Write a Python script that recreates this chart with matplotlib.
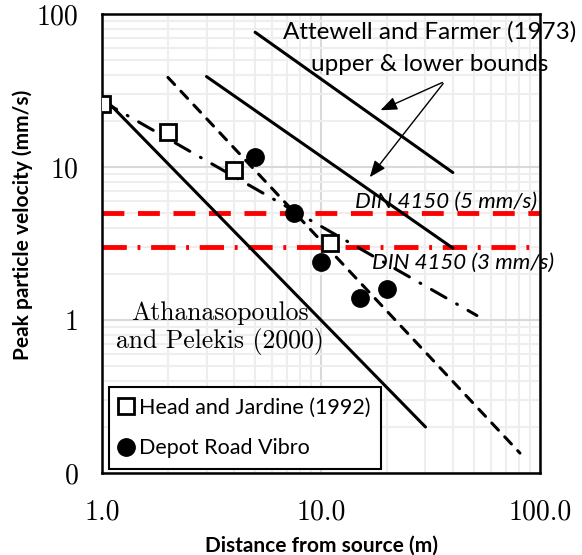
#
# Peak particle velocity vs distance (log-log)
#
import matplotlib
matplotlib.use("Agg")
import matplotlib.pyplot as plt
import matplotlib.ticker as mticker
import numpy as np

# 1. Input
head_x = [1.0, 2.0, 4.0, 11.0]
head_y = [26.0, 17.0, 9.5, 3.2]

depot_x = [5.0, 7.5, 10.0, 15.0, 20.0]
depot_y = [11.7, 5.0, 2.4, 1.4, 1.6]

athan_x = [1.0, 30.0]
athan_y = [29.0, 0.2]

head_fit_x = [1.0, 51.5]
head_fit_y = [27.0, 1.07]

dash_fit_x = [2.0, 81.0]
dash_fit_y = [38.5, 0.135]

att_upper_x = [5.0, 40.0]
att_upper_y = [76.0, 9.2]

att_lower_x = [3.0, 40.0]
att_lower_y = [39.0, 2.95]

din_5 = 5.0
din_3 = 3.0

x_ticks = [1, 10, 100]
x_labels = ["1.0", "10.0", "100.0"]
y_ticks = [0.1, 1, 10, 100]
y_labels = ["0", "1", "10", "100"]

# 2. Process
serif = "cmr10"
sans = "Lato"

fig = plt.figure(figsize=(5.82, 5.55), dpi=100)
ax = fig.add_axes([0.1753, 0.1477, 0.7525, 0.8271])
ax.set_xscale("log")
ax.set_yscale("log")
ax.set_xlim(1, 100)
ax.set_ylim(0.1, 100)

ax.grid(which="major", color="#d9d9d9", lw=1.5, zorder=0)
ax.grid(which="minor", color="#eeeeee", lw=1.5, zorder=0)
ax.set_axisbelow(True)

# red DIN lines
ax.axhline(din_5, color="red", lw=3.5, dashes=(4.5, 2.8), zorder=2)
ax.axhline(din_3, color="red", lw=3.5, dashes=(5, 2.2, 0.6, 2.2), zorder=2)

# black lines
ax.plot(athan_x, athan_y, color="black", lw=2.2, solid_capstyle="round", zorder=3)
ax.plot(att_upper_x, att_upper_y, color="black", lw=2.2, solid_capstyle="round", zorder=3)
ax.plot(att_lower_x, att_lower_y, color="black", lw=2.2, solid_capstyle="round", zorder=3)
ax.plot(dash_fit_x, dash_fit_y, color="black", lw=2.2, dashes=(3.2, 3.0),
        dash_capstyle="round", zorder=3)
ax.plot(head_fit_x, head_fit_y, color="black", lw=2.2, dashes=(5.5, 4.0, 0.3, 4.0),
        dash_capstyle="round", zorder=3)

# data points
ax.plot(head_x, head_y, ls="none", marker="s", ms=11, mfc="white", mec="black",
        mew=2.0, label="Head and Jardine (1992)", zorder=4)
ax.plot(depot_x, depot_y, ls="none", marker="o", ms=12.5, mfc="black", mec="black",
        label="Depot Road Vibro", zorder=4)

# texts
ax.text(31.5, 77, "Attewell and Farmer (1973)", ha="center", va="center",
        fontsize=17.5, family=sans, clip_on=False)
ax.text(31.5, 46.5, "upper & lower bounds", ha="center", va="center",
        fontsize=17.5, family=sans)
ax.annotate("", xy=(18.2, 23.1), xytext=(36.8, 36.3),
            arrowprops=dict(arrowstyle="-|>,head_length=1.0,head_width=0.4",
                            color="black", lw=1.0))
ax.annotate("", xy=(16.4, 8.3), xytext=(36.8, 36.3),
            arrowprops=dict(arrowstyle="-|>,head_length=1.0,head_width=0.4",
                            color="black", lw=1.0))
ax.text(97, 5.95, "DIN 4150 (5 mm/s)", ha="right", va="center", fontsize=16,
        family=sans, style="italic")
ax.text(116, 2.38, "DIN 4150 (3 mm/s)", ha="right", va="center", fontsize=16,
        family=sans, style="italic")
ax.text(3.46, 0.89, "Athanasopoulos\nand Pelekis (2000)", ha="center", va="center",
        fontsize=18.5, family=serif, linespacing=1.15)

# axes style
for s in ax.spines.values():
    s.set_linewidth(1.8)
ax.xaxis.set_major_locator(mticker.FixedLocator(x_ticks))
ax.xaxis.set_major_formatter(mticker.FixedFormatter(x_labels))
ax.yaxis.set_major_locator(mticker.FixedLocator(y_ticks))
ax.yaxis.set_major_formatter(mticker.FixedFormatter(y_labels))
ax.xaxis.set_minor_formatter(mticker.NullFormatter())
ax.yaxis.set_minor_formatter(mticker.NullFormatter())
ax.tick_params(which="both", length=0)
ax.tick_params(axis="x", pad=19)
ax.tick_params(axis="y", pad=17)
for lab in ax.get_xticklabels() + ax.get_yticklabels():
    lab.set_family(serif)
    lab.set_fontsize(20)

ax.set_xlabel("Distance from source (m)", fontsize=15, fontweight="bold",
              family=sans, labelpad=7)
ax.set_ylabel("Peak particle velocity (mm/s)", fontsize=15, fontweight="bold",
              family=sans)
ax.yaxis.set_label_coords(-0.158, 0.54)

leg = ax.legend(loc="lower left", bbox_to_anchor=(0.016, 0.009),
                prop={"family": sans, "size": 15.5}, fancybox=False, framealpha=1,
                edgecolor="black", handlelength=0.6, handletextpad=0.3,
                borderpad=0.5, labelspacing=0.95, borderaxespad=0.0)
leg.get_frame().set_linewidth(1.5)

# 3. Output
fig.savefig("out.png", dpi=100)
